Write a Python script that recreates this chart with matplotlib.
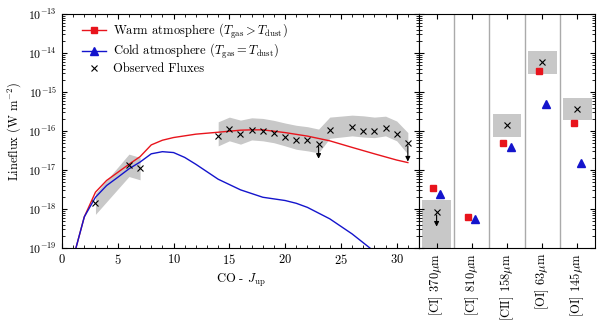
import numpy as np
import matplotlib
matplotlib.use("Agg")
import matplotlib.pyplot as plt
from matplotlib.ticker import FixedLocator, LogFormatterSciNotation

plt.rcParams['font.family'] = 'serif'
plt.rcParams['font.serif'] = ['cmr10']
plt.rcParams['mathtext.fontset'] = 'cm'
plt.rcParams['axes.unicode_minus'] = False
plt.rcParams['axes.formatter.use_mathtext'] = True
plt.rcParams['font.size'] = 9

# CO ladder models
J_model = [1, 1.25, 2, 3, 4, 5, 6, 7, 8, 9, 10, 12, 14, 16, 17, 18, 20, 22, 24, 26, 28, 30, 31]
warm_model = [5e-20, 1e-19, 6.3e-19, 2.7e-18, 5.4e-18, 8.7e-18, 1.4e-17, 2.2e-17, 4.4e-17, 5.8e-17,
              6.8e-17, 8.3e-17, 9.3e-17, 1.05e-16, 1.07e-16, 1.07e-16, 9.1e-17, 7.4e-17, 5.6e-17,
              3.8e-17, 2.6e-17, 1.8e-17, 1.55e-17]
J_cold = [1, 1.25, 2, 3, 4, 5, 6, 7, 8, 9, 10, 11, 12, 14, 16, 18, 20, 21, 22, 24, 26, 27.6, 28.5]
cold_model = [5e-20, 1e-19, 6.3e-19, 2.0e-18, 4.0e-18, 6.5e-18, 1.07e-17, 1.6e-17, 2.6e-17, 2.95e-17,
              2.8e-17, 2.1e-17, 1.4e-17, 5.8e-18, 3.1e-18, 2.0e-18, 1.65e-18, 1.4e-18, 1.1e-18,
              5.6e-19, 2.3e-19, 1.0e-19, 6e-20]

# observed CO fluxes
J_obs = [3, 6, 7, 14, 15, 16, 17, 18, 19, 20, 21, 22, 23, 24, 26, 27, 28, 29, 30, 31]
flux_obs = [1.4e-18, 1.35e-17, 1.1e-17, 7.4e-17, 1.15e-16, 8.3e-17, 1.07e-16, 1.0e-16, 8.7e-17,
            7.1e-17, 5.9e-17, 6.0e-17, 4.7e-17, 1.07e-16, 1.26e-16, 1.02e-16, 1.0e-16, 1.2e-16,
            8.5e-17, 4.9e-17]
J_uplim = [23, 31]
uplim_from = [4.7e-17, 4.9e-17]
uplim_to = [1.65e-17, 1.4e-17]

# error bands
J_band_low = [3, 6, 7]
band_low_up = [2.5e-18, 2.55e-17, 2.1e-17]
band_low_dn = [7.3e-19, 6.8e-18, 5.6e-18]
J_band_high = [14, 15, 16, 17, 18, 19, 20, 21, 22, 23, 24, 26, 27, 28, 29, 30, 31]
band_high_up = [1.72e-16, 2.27e-16, 1.9e-16, 2.18e-16, 2.1e-16, 1.87e-16, 1.6e-16, 1.4e-16,
                1.29e-16, 1.12e-16, 2.27e-16, 2.55e-16, 2.45e-16, 2.27e-16, 2.4e-16, 1.8e-16, 9.1e-17]
band_high_dn = [4.15e-17, 5.6e-17, 4.6e-17, 5.9e-17, 5.6e-17, 5.0e-17, 4.15e-17, 3.4e-17,
                3.1e-17, 2.75e-17, 6.5e-17, 7.5e-17, 7.0e-17, 6.75e-17, 7.5e-17, 5.6e-17, 2.55e-17]

# fine-structure lines
fs_labels = ['[CI] 370$\\mu$m', '[CI] 810$\\mu$m', '[CII] 158$\\mu$m', '[OI] 63$\\mu$m', '[OI] 145$\\mu$m']
fs_warm = [3.5e-18, 6.3e-19, 5.0e-17, 3.5e-15, 1.6e-16]
fs_cold = [2.45e-18, 5.5e-19, 3.8e-17, 5.0e-16, 1.5e-17]
fs_obs_idx = [0, 2, 3, 4]
fs_obs = [8.3e-19, 1.4e-16, 5.8e-15, 3.7e-16]
fs_box_up = [1.66e-18, 2.8e-16, 1.15e-14, 7.1e-16]
fs_box_dn = [5e-20, 7.1e-17, 2.95e-15, 1.86e-16]
fs_uplim_to = [3e-19]

y_major = [1e-19, 1e-18, 1e-17, 1e-16, 1e-15, 1e-14, 1e-13]

band_col = '#c8c8c8'

fig = plt.figure(figsize=(6.0, 3.22), dpi=100)
ax1 = fig.add_axes([62/600, 1-248/322, 357/600, 234/322])
ax2 = fig.add_axes([419/600, 1-248/322, 176/600, 234/322], sharey=ax1)

# left panel: CO ladder
ax1.fill_between(J_band_low, band_low_dn, band_low_up, color=band_col, lw=0, zorder=1)
ax1.fill_between(J_band_high, band_high_dn, band_high_up, color=band_col, lw=0, zorder=1)
ax1.plot(J_model, warm_model, color='#e8141c', lw=1, zorder=3)
ax1.plot(J_cold, cold_model, color='#1414cc', lw=1, zorder=3)
ax1.plot(J_obs, flux_obs, 'x', color='k', ms=5, mew=0.8, zorder=4)
for j, a, b in zip(J_uplim, uplim_from, uplim_to):
    ax1.annotate('', xy=(j, b), xytext=(j, a),
                 arrowprops=dict(arrowstyle='-|>', color='k', lw=0.8, mutation_scale=7), zorder=5)

# legend proxies
ax1.plot([], [], color='#e8141c', marker='s', ms=5, lw=1,
         label='Warm atmosphere ($T_{\\rm gas} > T_{\\rm dust}$)')
ax1.plot([], [], color='#1414cc', marker='^', ms=6, lw=1,
         label='Cold atmosphere ($T_{\\rm gas} = T_{\\rm dust}$)')
ax1.plot([], [], 'x', color='k', ms=5, mew=0.8, label='Observed Fluxes')
ax1.legend(loc='upper left', frameon=False, fontsize=9, labelspacing=0.15,
           handlelength=1.9, handletextpad=0.6, borderaxespad=0.2,
           bbox_to_anchor=(0.035, 1.0))

ax1.set_yscale('log')
ax1.set_ylim(1e-19, 1e-13)
ax1.yaxis.set_major_locator(FixedLocator(y_major))
ax1.yaxis.set_major_formatter(LogFormatterSciNotation())
ax1.set_xlim(0, 32)
ax1.set_xticks([0, 5, 10, 15, 20, 25, 30])
ax1.set_xticks(np.arange(0, 33, 1), minor=True)
ax1.set_xlabel('CO - $J_{\\rm up}$')
ax1.set_ylabel('Lineflux (W m$^{-2}$)')
ax1.tick_params(which='both', direction='in', top=True, right=True)
ax1.tick_params(axis='y', labelsize=8.5)

# right panel: fine-structure lines
xs = np.arange(len(fs_labels))
for i in range(1, len(fs_labels)):
    ax2.axvline(i - 0.5, color='#aaaaaa', lw=1, zorder=0)
for k, i in enumerate(fs_obs_idx):
    ax2.fill_between([i - 0.41, i + 0.41], fs_box_dn[k], fs_box_up[k], color=band_col, lw=0, zorder=1)
ax2.plot(xs - 0.1, fs_warm, 's', color='#e8141c', ms=5, zorder=3)
ax2.plot(xs + 0.1, fs_cold, '^', color='#1414cc', ms=6, zorder=3)
ax2.plot(fs_obs_idx, fs_obs, 'x', color='k', ms=5, mew=0.8, zorder=4)
ax2.annotate('', xy=(0, fs_uplim_to[0]), xytext=(0, fs_obs[0]),
             arrowprops=dict(arrowstyle='-|>', color='k', lw=0.8, mutation_scale=7), zorder=5)
ax2.set_xlim(-0.5, 4.5)
ax2.set_xticks(xs)
ax2.set_xticklabels(fs_labels, rotation=90)
ax2.tick_params(which='both', direction='in', top=True, right=True, labelleft=False)

fig.savefig('out.png', dpi=100)
